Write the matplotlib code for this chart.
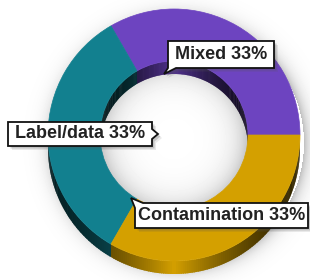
import numpy as np
import matplotlib.pyplot as plt
import matplotlib.colors as mcolors
from matplotlib.patches import Wedge, Polygon

# slice data
labels = ['Mixed', 'Label/data', 'Contamination']
values = [33, 33, 33]
colors = ['#6d44c0', '#12808f', '#d4a000']

fig = plt.figure(figsize=(3.1, 2.8), dpi=100)
ax = fig.add_axes([0, 0, 1, 1])
ax.set_xlim(0, 310)
ax.set_ylim(0, 280)
ax.axis('off')

cx, cy = 174, 145
r_out, r_in = 126, 74
depth = 13

# soft shadow round the ring and on the floor of the hole
yy, xx = np.mgrid[0:280, 0:310] + 0.5
d = np.hypot(xx - (cx + 4), yy - (cy - 8))
s = np.zeros_like(d)
out = d > r_out
s[out] = 0.25 * np.exp(-(d[out] - r_out) / 7)
d2 = np.hypot(xx - cx, yy - (cy - 4))
hole = d2 < r_in
s[hole] = 0.24 * np.exp(-(r_in - d2[hole]) / 13)
ax.imshow(1 - s, cmap='gray', vmin=0, vmax=1, origin='lower',
          extent=[0, 310, 0, 280], zorder=0, interpolation='bilinear')
ax.set_aspect('auto')

angles = np.cumsum([0] + values) / sum(values) * 360


def shade(t):
    return 0.25 + 0.75 * (1 - abs(np.cos(t))) ** 1.6


# side walls (outer in the lower half, inner in the upper half)
step = np.radians(1.0)
for i, c in enumerate(colors):
    rgb = np.array(mcolors.to_rgb(c))
    a0, a1 = angles[i], angles[i + 1]
    ts = np.radians(np.linspace(a0, a1, int(a1 - a0) + 1))
    for t0, t1 in zip(ts[:-1], ts[1:]):
        tm = (t0 + t1) / 2
        if np.sin(tm) < 0:
            r, k = r_out, 1.0
        else:
            r, k = r_in, 0.75
        tt = np.linspace(t0, min(t1 + step * 0.6, np.radians(a1)), 4)
        top = np.column_stack([cx + r * np.cos(tt), cy + r * np.sin(tt)])
        bot = top[::-1] - [0, depth]
        col = np.clip(rgb * shade(tm) * k, 0, 1)
        ax.add_patch(Polygon(np.vstack([top, bot]), fc=col, ec='none',
                             lw=0, zorder=1))

# top face
for i, c in enumerate(colors):
    ax.add_patch(Wedge((cx, cy), r_out, angles[i], angles[i + 1],
                       width=r_out - r_in, fc=c, ec=c, lw=0.5, zorder=2))

# callout boxes: text centre and outline (with pointer)
boxes = {
    'Mixed': ((221, 225.5), [(168, 239), (274, 239), (274, 212), (176, 212),
                             (164, 206), (168, 212)]),
    'Label/data': ((80, 146), [(8, 158), (152, 158), (152, 151), (158, 146),
                               (152, 141), (152, 134), (8, 134)]),
    'Contamination': ((221.5, 64.5), [(143, 77), (308, 77), (308, 52),
                                      (135, 52), (135, 72), (131, 82)]),
}

total = sum(values)
for lab, v in zip(labels, values):
    (tx, ty), pts = boxes[lab]
    pts = np.array(pts, dtype=float)
    for off, a in [(4, 0.12), (2.5, 0.25)]:
        ax.add_patch(Polygon(pts + [off, -off], fc='#555555', ec='none',
                             alpha=a, zorder=3))
    ax.add_patch(Polygon(pts, fc='white', ec='#111111', lw=1.3, zorder=4,
                         joinstyle='miter'))
    ax.text(tx, ty, f'{lab} {v / total * 100:.0f}%', ha='center', va='center',
            fontsize=13, fontweight='bold', family='Liberation Sans',
            color='#222222', zorder=5)

fig.savefig('out.png', dpi=100)
